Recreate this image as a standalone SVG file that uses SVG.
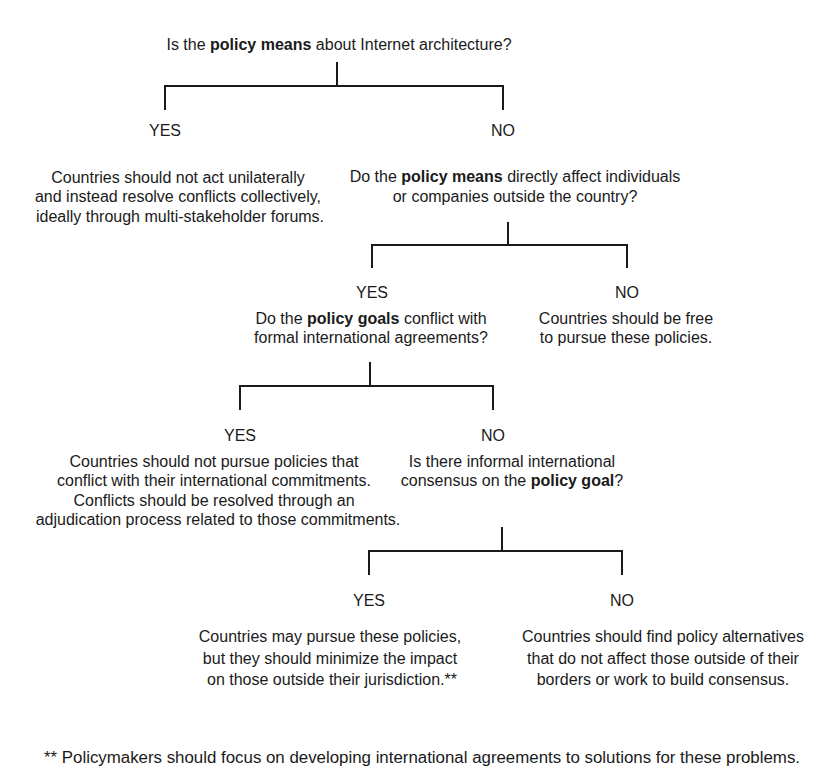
<svg xmlns="http://www.w3.org/2000/svg" width="834" height="769" viewBox="0 0 834 769">
<style>
text{font-family:"Liberation Sans",Arial,sans-serif;font-size:16px;fill:#1a1a1a;text-anchor:middle}
.b{font-weight:bold}
.fn{text-anchor:start}
#connectors path{fill:none;stroke:#1a1a1a;stroke-width:2}
</style>
<rect width="834" height="769" fill="#fff"/>
<g id="connectors">
<path d="M337,62V86M165,110V86H503V110"/>
<path d="M508,222V245M372,268V245H627V268"/>
<path d="M370,362V386M240,410V386H493V410"/>
<path d="M502,527V551M369,575V551H622V575"/>
</g>
<g id="q1"><text x="339" y="50">Is the <tspan class="b">policy means</tspan> about Internet architecture?</text></g>
<g id="yes1"><text x="165" y="136">YES</text></g>
<g id="no1"><text x="503" y="136">NO</text></g>
<g id="a1"><text x="178" y="183">Countries should not act unilaterally</text><text x="178" y="202">and instead resolve conflicts collectively,</text><text x="180" y="222">ideally through multi-stakeholder forums.</text></g>
<g id="q2"><text x="515" y="182">Do the <tspan class="b">policy means</tspan> directly affect individuals</text><text x="515" y="202">or companies outside the country?</text></g>
<g id="yes2"><text x="372" y="298">YES</text></g>
<g id="no2"><text x="627" y="298">NO</text></g>
<g id="q3"><text x="371" y="324">Do the <tspan class="b">policy goals</tspan> conflict with</text><text x="371" y="343">formal international agreements?</text></g>
<g id="a2"><text x="626" y="324">Countries should be free</text><text x="626" y="343">to pursue these policies.</text></g>
<g id="yes3"><text x="240" y="441">YES</text></g>
<g id="no3"><text x="493" y="441">NO</text></g>
<g id="a3"><text x="214" y="467">Countries should not pursue policies that</text><text x="214" y="486">conflict with their international commitments.</text><text x="214" y="506">Conflicts should be resolved through an</text><text x="218" y="525">adjudication process related to those commitments.</text></g>
<g id="q4"><text x="512" y="467">Is there informal international</text><text x="512" y="486">consensus on the <tspan class="b">policy goal</tspan>?</text></g>
<g id="yes4"><text x="369" y="606">YES</text></g>
<g id="no4"><text x="622" y="606">NO</text></g>
<g id="a4"><text x="330" y="642">Countries may pursue these policies,</text><text x="330" y="664">but they should minimize the impact</text><text x="332" y="685">on those outside their jurisdiction.**</text></g>
<g id="a5"><text x="663" y="642">Countries should find policy alternatives</text><text x="663" y="664">that do not affect those outside of their</text><text x="663" y="685">borders or work to build consensus.</text></g>
<g id="footnote"><text class="fn" x="44" y="763" textLength="756" lengthAdjust="spacingAndGlyphs">** Policymakers should focus on developing international agreements to solutions for these problems.</text></g>
</svg>
